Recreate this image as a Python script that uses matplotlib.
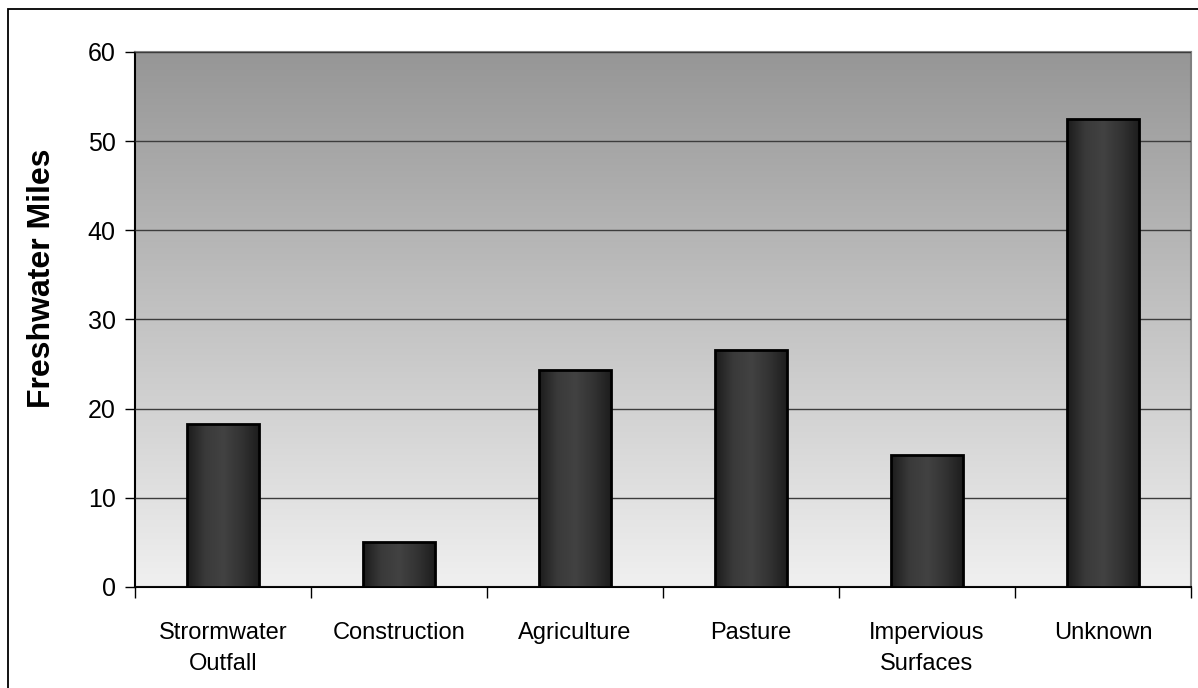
import numpy as np
import matplotlib.pyplot as plt
from matplotlib.colors import LinearSegmentedColormap
from matplotlib.patches import Rectangle

# data
categories = ['Strormwater\nOutfall', 'Construction', 'Agriculture', 'Pasture',
              'Impervious\nSurfaces', 'Unknown']
miles = [18.3, 5.0, 24.3, 26.6, 14.8, 52.5]
yticks = [0, 10, 20, 30, 40, 50, 60]

plt.rcParams['font.family'] = ['Liberation Sans', 'DejaVu Sans']

fig = plt.figure(figsize=(11.98, 6.88), dpi=100)
ax = fig.add_axes([135/1198, 1-587/688, (1191-135)/1198, (587-52)/688])

n = len(categories)
x = np.arange(n)

# vertical gradient background of the plot area
bg = LinearSegmentedColormap.from_list('bg', ['#f0f0f0', '#969696'])
ax.imshow(np.linspace(0, 1, 256).reshape(-1, 1), cmap=bg, aspect='auto',
          extent=[0, 1, 0, 1], transform=ax.transAxes, origin='lower', zorder=0)

ax.yaxis.grid(True, color='#3c3c3c', linewidth=1.0, zorder=1)
ax.set_axisbelow(False)

# bars with horizontal shading
bars = ax.bar(x, miles, width=0.41, facecolor='none', edgecolor='black',
              linewidth=2, zorder=4)
shade = LinearSegmentedColormap.from_list('shade', ['#1c1c1c', '#3a3a3a', '#424242', '#333333', '#1c1c1c'])
grad = np.linspace(0, 1, 128).reshape(1, -1)
for b in bars:
    x0, w, h = b.get_x(), b.get_width(), b.get_height()
    im = ax.imshow(grad, cmap=shade, aspect='auto', extent=[x0, x0+w, 0, h],
                   zorder=3, interpolation='bicubic')
    im.set_clip_path(b)
ax.set_xlim(-0.5, n-0.5)
ax.set_ylim(0, 60)

# ticks
ax.set_yticks(yticks)
ax.tick_params(axis='y', direction='out', length=7, width=1, labelsize=18, pad=7)
ax.set_xticks(np.arange(n+1) - 0.5)
ax.set_xticklabels([])
ax.set_xticks(x, minor=True)
ax.set_xticklabels(categories, minor=True, fontsize=17, linespacing=1.55)
ax.tick_params(axis='x', which='major', direction='out', length=8, width=1)
ax.tick_params(axis='x', which='minor', length=0, pad=25)

for side in ['left', 'bottom']:
    ax.spines[side].set_color('black')
    ax.spines[side].set_linewidth(1.5)
for side in ['top', 'right']:
    ax.spines[side].set_color('#808080')
    ax.spines[side].set_linewidth(1.5)

ax.set_ylabel('Freshwater Miles', fontsize=23, fontweight='bold')
ax.yaxis.set_label_coords(-0.0735, 0.578)

# outer frame (only top and left visible in the reference)
fig.patches.append(Rectangle((8/1198, -0.05), 1.1, 1-9/688+0.05, transform=fig.transFigure,
                             fill=False, edgecolor='black', linewidth=1.3))

fig.savefig('out.png', dpi=100)
